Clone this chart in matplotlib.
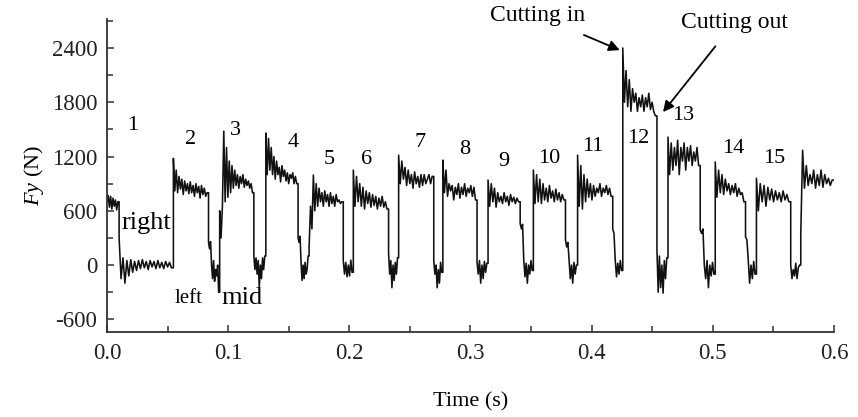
import numpy as np
import matplotlib
matplotlib.use('Agg')
import matplotlib.pyplot as plt
from matplotlib.ticker import MultipleLocator

plt.rcParams['font.family'] = ['Liberation Serif', 'DejaVu Serif']
plt.rcParams['axes.unicode_minus'] = False
plt.rcParams['mathtext.fontset'] = 'custom'
plt.rcParams['mathtext.it'] = 'Liberation Serif:italic'
plt.rcParams['mathtext.rm'] = 'Liberation Serif'

# segment boundaries (s): alternating cutting (high) / idle (low) parts
seg_t = [0.000, 0.010, 0.0548, 0.0838, 0.093, 0.1212, 0.1311, 0.1577, 0.1668,
         0.195, 0.2033, 0.2324, 0.2407, 0.2697, 0.2772, 0.3054, 0.3145, 0.341,
         0.3519, 0.3784, 0.3884, 0.4174, 0.4257, 0.4539, 0.463, 0.4896, 0.502,
         0.527, 0.536, 0.5643, 0.5726, 0.600]

seg_vals = [
    [700, 770, 640, 760, 620, 740, 650, 720, 610, 700],
    [300, -150, 80, -200, 50, -120, 60, -80, 40, -60, 50, -40, 60, -30, 40,
     -50, 50, -20, 40, -40, 50, -30, 30, -40, 40, -20, 30, -30],
    [1180, 820, 1050, 800, 980, 840, 950, 780, 930, 820, 900, 790, 920, 800,
     880, 760, 900, 800, 870, 740, 880, 780, 850, 760, 800],
    [250, 180, 260, 0, -150, 50, -180, -50, -120, 0, -300],
    [600, 300, 650, 1480, 700, 1300, 750, 1150, 800, 1100, 850, 1050, 880,
     1000, 850, 980, 900, 1000, 860, 950, 880, 930, 850, 900, 800],
    [100, -50, 80, -100, 50, -250, 0, -150, 80, -50, 100],
    [1460, 1000, 1400, 1050, 1300, 1000, 1200, 950, 1150, 1000, 1080, 920,
     1100, 980, 1050, 930, 1020, 900, 1000, 960, 1020, 900, 980, 900],
    [300, 250, 320, 20, -170, 0, -150, 30, -100, -50, 100],
    [200, 650, 400, 995, 600, 900, 650, 850, 700, 800, 650, 820, 700, 780,
     650, 800, 680, 760, 650, 780, 700, 720, 680, 700],
    [50, -100, 30, -130, 0, -120, 55, -80],
    [1050, 650, 980, 700, 900, 650, 860, 620, 820, 680, 800, 640, 780, 660,
     760, 620, 740, 650, 760, 640, 700, 620],
    [130, -100, 50, -250, 0, -170, 30, -100, 80],
    [1215, 900, 1150, 950, 1080, 880, 1050, 900, 1000, 850, 1030, 900, 980,
     860, 1000, 880, 1000, 900, 950, 1000, 900, 980],
    [50, -100, 0, -250, -50, -200, 30, -80],
    [1160, 800, 1050, 760, 900, 820, 880, 720, 860, 780, 900, 740, 860, 780,
     900, 760, 850, 800, 880, 760, 860, 720],
    [30, -100, 50, -200, 0, -150, 40, -80, 20],
    [940, 650, 900, 700, 850, 640, 800, 700, 760, 680, 800, 700, 760, 660,
     780, 700, 750, 680, 740, 700],
    [460, 400, 450, 55, -130, 20, -200, 0, -100, 50, -60],
    [1050, 680, 1000, 700, 950, 680, 900, 720, 850, 700, 880, 740, 820, 700,
     840, 720, 800, 700, 780, 720],
    [280, 200, 250, 50, -150, 0, -200, 30, -100, 0],
    [1215, 650, 1100, 620, 1000, 700, 950, 750, 900, 720, 880, 760, 850, 800,
     900, 760, 850, 800, 880, 780, 850, 760],
    [400, 350, 55, -130, 20, -100, 50, -60],
    [2400, 1800, 2150, 1750, 2050, 1700, 1950, 1800, 1900, 1700, 1850, 1750,
     1880, 1700, 1850, 1750, 1900, 1720, 1800, 1700, 1650],
    [165, -300, 100, -250, 0, -310, 50, -150, 80],
    [1415, 1000, 1350, 1050, 1300, 1100, 1380, 1000, 1300, 1150, 1350, 1050,
     1300, 1150, 1320, 1100, 1250, 1150, 1300, 1100],
    [390, 350, 400, 0, -150, 50, -250, 0, -120, 30, -100],
    [1140, 750, 1050, 800, 1000, 780, 950, 820, 900, 780, 880, 800, 900, 760,
     850, 780, 800, 700],
    [310, 280, 55, -200, 0, -150, 40, -100],
    [960, 600, 900, 700, 880, 650, 860, 720, 840, 700, 820, 720, 800, 700,
     820, 720, 780, 700],
    [0, -150, -50, -120, 20, -150, -30, 0],
    [350, 1270, 850, 1100, 880, 1000, 900, 1050, 850, 1000, 880, 1050, 860,
     1000, 900, 960, 880, 940],
]

# pass labels
pass_labels = ['1', '2', '3', '4', '5', '6', '7', '8', '9', '10', '11', '12',
               '13', '14', '15']
pass_x = [0.0216, 0.0689, 0.1062, 0.1535, 0.1834, 0.2141, 0.2581, 0.2954,
          0.3278, 0.3651, 0.4008, 0.4382, 0.4755, 0.517, 0.551]
pass_y = [1547, 1392, 1492, 1359, 1171, 1171, 1359, 1282, 1149, 1182, 1315,
          1403, 1658, 1293, 1182]

t_all, f_all = [], []
for i, vals in enumerate(seg_vals):
    n = len(vals)
    tt = np.linspace(seg_t[i], seg_t[i + 1], n + 1)[:-1]
    tt = np.append(tt, seg_t[i + 1])
    t_all.extend(tt)
    f_all.extend(list(vals) + [vals[-1]])

fig = plt.figure(figsize=(8.58, 4.17), dpi=100)
ax = fig.add_axes([0.1247, 0.2038, 0.8473, 0.7506])

ax.plot(t_all, f_all, color='#111111', lw=1.15)

ax.set_xlim(0, 0.6)
ax.set_ylim(-740, 2720)
ax.xaxis.set_major_locator(MultipleLocator(0.1))
ax.xaxis.set_minor_locator(MultipleLocator(0.05))
ax.yaxis.set_major_locator(MultipleLocator(600))
ax.yaxis.set_minor_locator(MultipleLocator(300))
ax.xaxis.set_major_formatter(plt.FuncFormatter(lambda v, p: f'{v:.1f}'))

for s in ['top', 'right']:
    ax.spines[s].set_visible(False)
for s in ['left', 'bottom']:
    ax.spines[s].set_linewidth(1.3)
    ax.spines[s].set_color('#333333')

ax.tick_params(which='both', direction='in', color='#333333', width=1.1)
ax.tick_params(which='major', length=5, labelsize=16.5, labelcolor='#222222')
ax.tick_params(which='minor', length=4)
ax.tick_params(axis='y', pad=7)
ax.tick_params(axis='x', pad=8)

ax.set_xlabel('Time (s)', fontsize=16, labelpad=20)
ax.set_ylabel(r'$\mathit{Fy}$ (N)', fontsize=16, labelpad=4)

for lab, x, y in zip(pass_labels, pass_x, pass_y):
    ax.text(x, y, lab, fontsize=16, ha='center', va='center')

ax.text(0.0324, 464, 'right', fontsize=19, ha='center', va='center')
ax.text(0.0672, -365, 'left', fontsize=15, ha='center', va='center')
ax.text(0.1112, -365, 'mid', fontsize=19, ha='center', va='center')

ax.annotate('Cutting in', xy=(0.4232, 2376), xytext=(0.355, 2762),
            fontsize=17, ha='center', va='center', annotation_clip=False,
            arrowprops=dict(arrowstyle='-|>', color='black', lw=1.3,
                            mutation_scale=16, shrinkA=12, shrinkB=0))
ax.annotate('Cutting out', xy=(0.4589, 1691), xytext=(0.518, 2685),
            fontsize=17, ha='center', va='center', annotation_clip=False,
            arrowprops=dict(arrowstyle='-|>', color='black', lw=1.3,
                            mutation_scale=16, shrinkA=10, shrinkB=0))

plt.savefig('out.png', dpi=100)
